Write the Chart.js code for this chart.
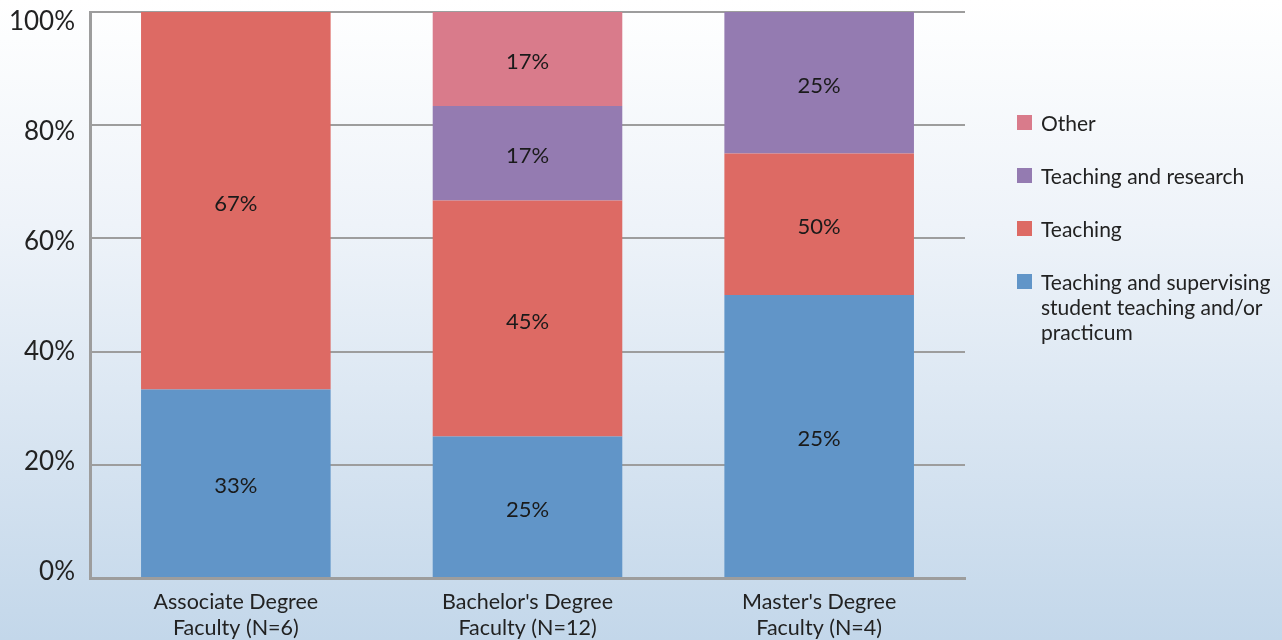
<!DOCTYPE html>
<html>
<head>
<meta charset="utf-8">
<script src="https://cdn.jsdelivr.net/npm/chart.js@4.4.1/dist/chart.umd.min.js"></script>
<style>
  html, body { margin: 0; padding: 0; }
  body {
    width: 1282px; height: 640px; overflow: hidden; position: relative;
    background: linear-gradient(to bottom, #ffffff 0%, #eef3f9 35%, #c3d7ea 100%);
    font-family: "Lato", "DejaVu Sans", sans-serif; color: #222;
  }
  #wrap { position: absolute; left: 0; top: 0; width: 1282px; height: 640px; }
  #legend { position: absolute; left: 1017px; top: 110px; font-size: 21px; line-height: 25px; }
  .item { position: relative; padding-left: 24px; margin-bottom: 28px; width: 250px; }
  .sw { position: absolute; left: 0; top: 5px; width: 15px; height: 15px; }
</style>
</head>
<body>
<div id="wrap"><canvas id="chart" width="1282" height="640"></canvas></div>
<div id="legend"></div>
<script>
const categories = [
  ['Associate Degree', 'Faculty (N=6)'],
  ["Bachelor's Degree", 'Faculty (N=12)'],
  ["Master's Degree", 'Faculty (N=4)']
];
const yTicks = [0, 20, 40, 60, 80, 100];

// segment heights as drawn (percent)
const supervising = [33.3, 25, 50];
const teaching = [66.7, 41.7, 25];
const research = [0, 16.7, 25];
const other = [0, 16.7, 0];

// labels printed on the segments
const supervisingLabels = ['33%', '25%', '25%'];
const teachingLabels = ['67%', '45%', '50%'];
const researchLabels = ['', '17%', '25%'];
const otherLabels = ['', '17%', ''];

const seriesNames = ['Teaching and supervising student teaching and/or practicum', 'Teaching', 'Teaching and research', 'Other'];
const colors = ['#6195c8', '#dd6a64', '#947bb1', '#d97b8b'];

const datasets = [supervising, teaching, research, other].map((d, i) => ({
  label: seriesNames[i],
  data: d,
  backgroundColor: colors[i],
  borderWidth: 0,
  barPercentage: 0.65,
  categoryPercentage: 1.0,
  segLabels: [supervisingLabels, teachingLabels, researchLabels, otherLabels][i]
}));

// draw the percentage labels inside segments + the y tick labels
const labelPlugin = {
  id: 'labels',
  afterDatasetsDraw(chart) {
    const ctx = chart.ctx;
    ctx.save();
    ctx.font = '22px Lato, "DejaVu Sans", sans-serif';
    ctx.fillStyle = '#1a1a1a';
    ctx.textAlign = 'center';
    ctx.textBaseline = 'middle';
    chart.data.datasets.forEach((ds, i) => {
      const meta = chart.getDatasetMeta(i);
      meta.data.forEach((bar, j) => {
        const txt = ds.segLabels[j];
        if (!txt || !ds.data[j]) return;
        ctx.fillText(txt, bar.x, (bar.y + bar.base) / 2 + 3);
      });
    });

    // y labels sit a little off their gridlines, more so near the top
    const y = chart.scales.y;
    ctx.font = '26px Lato, "DejaVu Sans", sans-serif';
    ctx.fillStyle = '#222';
    ctx.textAlign = 'right';
    yTicks.forEach(v => {
      const off = v / 100 * 16 - 6;
      ctx.fillText(v + '%', y.right - 15, y.getPixelForValue(v) + off);
    });
    ctx.restore();
  }
};

new Chart(document.getElementById('chart'), {
  type: 'bar',
  data: { labels: categories, datasets: datasets },
  plugins: [labelPlugin],
  options: {
    responsive: false,
    animation: false,
    layout: { padding: { top: 12, right: 317, left: 0, bottom: 0 } },
    plugins: { legend: { display: false }, tooltip: { enabled: false } },
    scales: {
      x: {
        stacked: true,
        grid: { display: false, drawTicks: false },
        border: { display: true, color: '#9d9d9d', width: 3 },
        ticks: {
          color: '#222', padding: 11,
          font: { family: 'Lato, "DejaVu Sans", sans-serif', size: 21.5, lineHeight: 1.2 },
          maxRotation: 0
        },
        afterFit(scale) { scale.height = 62; }
      },
      y: {
        stacked: true,
        min: 0, max: 100,
        afterBuildTicks(scale) { scale.ticks = yTicks.map(v => ({ value: v })); },
        grid: { color: '#9d9d9d', lineWidth: 2, drawTicks: false },
        border: { display: true, color: '#9d9d9d', width: 3 },
        ticks: { display: false },
        afterFit(scale) {
          scale.width = 90;
          scale.paddingTop = 0;
          scale.paddingBottom = 0;
        }
      }
    }
  }
});

// html legend (reverse order, wrapped text)
const legend = document.getElementById('legend');
for (let i = seriesNames.length - 1; i >= 0; i--) {
  const div = document.createElement('div');
  div.className = 'item';
  div.innerHTML = '<span class="sw" style="background:' + colors[i] + '"></span>' + seriesNames[i];
  legend.appendChild(div);
}
</script>
</body>
</html>
